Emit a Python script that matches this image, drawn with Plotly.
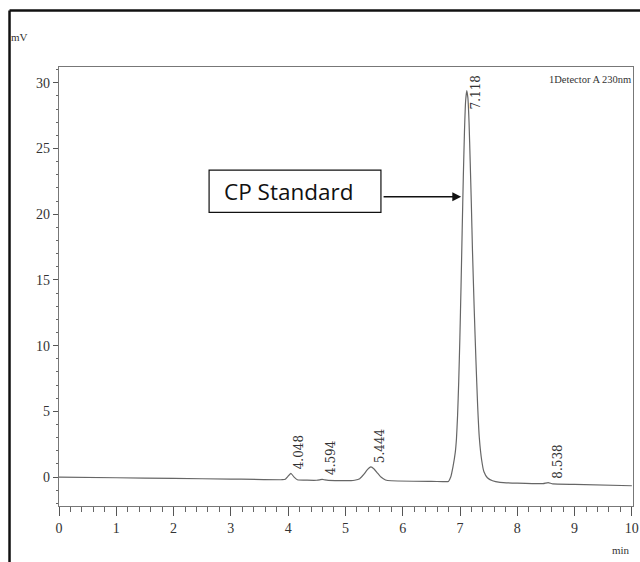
import plotly.graph_objects as go

# Chromatogram trace (time in min, signal in mV)
time_min = [0.0, 1.0, 2.0, 3.0, 3.90, 3.95, 3.99, 4.048, 4.10, 4.16, 4.50, 4.55, 4.594, 4.64,
            4.70, 5.10, 5.16, 5.25, 5.32, 5.38, 5.444, 5.50, 5.56, 5.62, 5.70, 5.80, 6.50,
            6.70, 6.798, 6.838, 6.878, 6.918, 6.938, 6.958, 6.978, 6.998, 7.018, 7.038, 7.058,
            7.078, 7.098, 7.118, 7.138, 7.158, 7.178, 7.198, 7.218, 7.248, 7.278, 7.308, 7.338,
            7.378, 7.418, 7.478, 7.568, 7.698, 8.00, 8.45, 8.538, 8.62, 9.00, 10.0]
signal_mv = [0.0, -0.05, -0.10, -0.15, -0.20, -0.17, 0.02, 0.28, 0.02, -0.20, -0.24, -0.21, -0.17, -0.21,
             -0.25, -0.27, -0.24, -0.12, 0.20, 0.55, 0.78, 0.62, 0.30, 0.00, -0.22, -0.28, -0.33,
             -0.34, -0.33, 0.0, 0.8, 1.9, 2.9, 4.7, 7.3, 10.6, 14.5, 18.75, 22.85,
             26.3, 28.6, 29.4, 28.85, 27.0, 24.0, 20.8, 17.2, 12.8, 8.9, 5.45, 2.95,
             1.3, 0.4, -0.05, -0.28, -0.40, -0.46, -0.50, -0.42, -0.52, -0.56, -0.66]

peak_times = [4.048, 4.594, 5.444, 7.118, 8.538]
peak_labels = ["4.048", "4.594", "5.444", "7.118", "8.538"]

x_ticks = [0, 1, 2, 3, 4, 5, 6, 7, 8, 9, 10]
y_ticks = [0, 5, 10, 15, 20, 25, 30]

fig = go.Figure()
fig.add_trace(go.Scatter(x=time_min, y=signal_mv, mode="lines",
                         line=dict(color="#666666", width=1.2, shape="spline", smoothing=0.4),
                         showlegend=False, hoverinfo="skip"))

serif = "Liberation Serif"
annotations = []
for t, lab in zip(peak_times, peak_labels):
    idx = time_min.index(t)
    yv = signal_mv[idx]
    main = lab == "7.118"
    annotations.append(dict(x=t, y=yv, xref="x", yref="y", text=lab, textangle=-90,
                            showarrow=False, xanchor="center",
                            yanchor="middle" if main else "bottom",
                            xshift=9, yshift=-2 if main else 2,
                            font=dict(family="DejaVu Serif", size=12, color="#333")))

# CP Standard label text and arrow (box drawn as a shape below)
annotations.append(dict(x=2.84, y=21.75, xref="x", yref="y", text="CP Standard", showarrow=False,
                        xanchor="left", yanchor="middle",
                        font=dict(family="Open Sans", size=22.5, color="#111")))
annotations.append(dict(x=7.02, y=21.33, xref="x", yref="y", ax=5.64, ay=21.33,
                        axref="x", ayref="y", text="", showarrow=True,
                        arrowhead=2, arrowsize=1.1, arrowwidth=1.6, arrowcolor="#111"))

annotations.append(dict(x=1.0, y=1.0, xref="paper", yref="paper", text="1Detector A 230nm",
                        showarrow=False, xanchor="right", yanchor="top", yshift=-5,
                        font=dict(family=serif, size=10.5, color="#333")))
annotations.append(dict(x=-0.068, y=1.0, xref="paper", yref="paper", text="mV",
                        showarrow=False, xanchor="center", yanchor="middle", yshift=30,
                        font=dict(family=serif, size=11, color="#333")))
annotations.append(dict(x=0.998, y=0.0, xref="paper", yref="paper", text="min",
                        showarrow=False, xanchor="right", yanchor="middle", yshift=-44,
                        font=dict(family=serif, size=11, color="#333")))

shapes = [
    dict(type="rect", xref="x", yref="y", x0=2.62, x1=5.62, y0=20.14, y1=23.36,
         line=dict(color="#111", width=1.2), fillcolor="white", layer="above"),
    dict(type="line", xref="paper", yref="paper", x0=-0.0862, x1=-0.0862, y0=-0.14, y1=1.1287,
         line=dict(color="#111", width=2.5)),
    dict(type="line", xref="paper", yref="paper", x0=-0.0862, x1=1.03, y0=1.1287, y1=1.1287,
         line=dict(color="#111", width=2.5)),
]

fig.update_layout(
    width=640, height=562, autosize=False,
    margin=dict(l=59, r=7, t=67, b=56),
    paper_bgcolor="white", plot_bgcolor="white",
    annotations=annotations, shapes=shapes,
    xaxis=dict(range=[0, 10.02], tickvals=x_ticks, ticks="outside", ticklen=9, tickcolor="#555",
               showline=True, linecolor="#777", linewidth=1.2, mirror=True,
               showgrid=False, zeroline=False, automargin=False, ticklabeloverflow="allow",
               minor=dict(dtick=0.2, ticks="outside", ticklen=5, tickcolor="#666", showgrid=False),
               tickfont=dict(family=serif, size=14, color="#333")),
    yaxis=dict(range=[-2.2, 31.2], tickvals=y_ticks, ticks="outside", ticklen=5, tickcolor="#555",
               showline=True, linecolor="#777", linewidth=1.2, mirror=True,
               showgrid=False, zeroline=False, automargin=False,
               minor=dict(dtick=1, ticks="outside", ticklen=2, tickcolor="#666", showgrid=False),
               tickfont=dict(family=serif, size=14, color="#333")),
)

fig.write_html(
    "out.html",
    config={"displayModeBar": False, "responsive": False},
    post_script=("document.documentElement.style.overflow='hidden';"
                 "document.body.style.overflow='hidden';"
                 "document.body.style.margin='0px';"),
)
